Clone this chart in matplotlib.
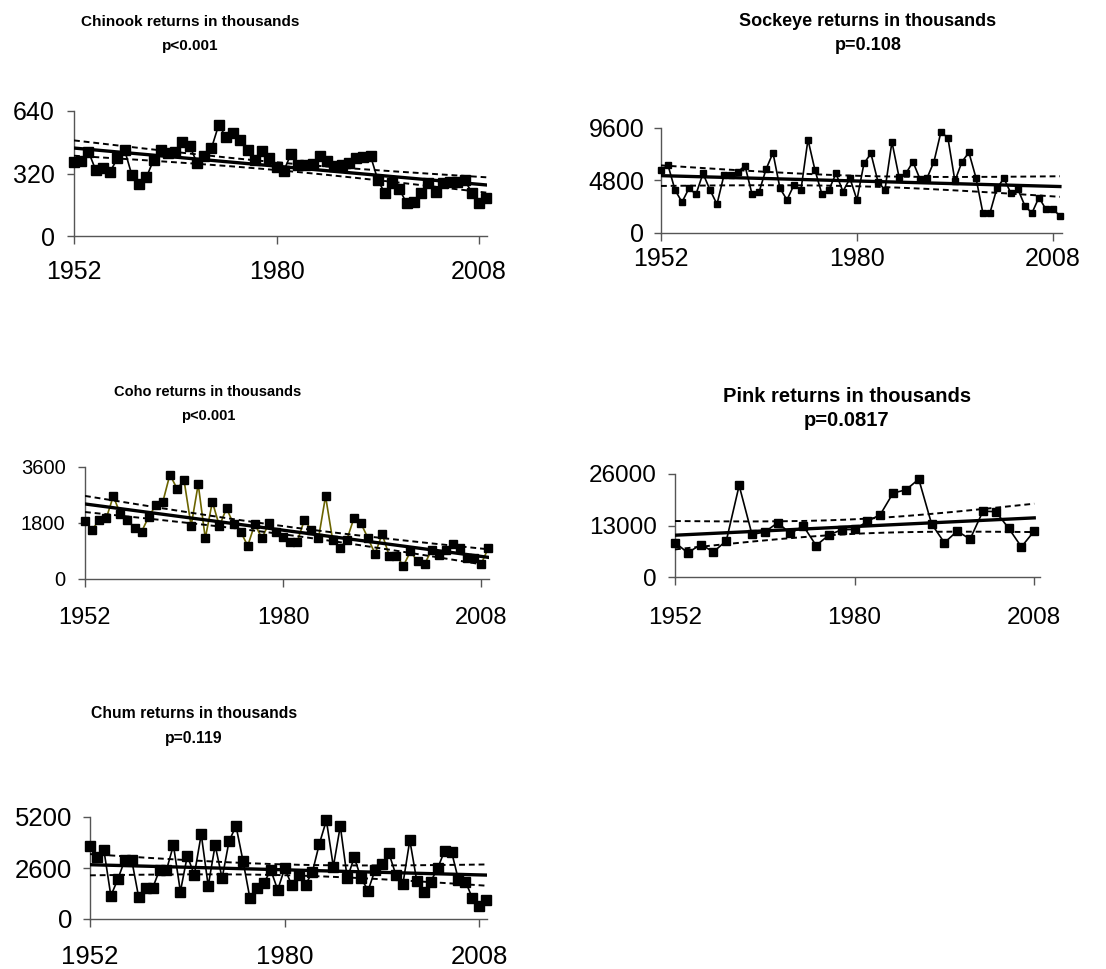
import numpy as np
import matplotlib
matplotlib.use("Agg")
import matplotlib.pyplot as plt

plt.rcParams['font.family'] = ['Liberation Sans', 'DejaVu Sans']

# annual returns (thousands), 1952-2009
years = list(range(1952, 2010))

chinook = [381, 384, 432, 338, 346, 329, 398, 440, 312, 266,
           300, 389, 440, 427, 432, 483, 461, 375, 410, 449,
           568, 509, 529, 492, 440, 389, 437, 398, 355, 333,
           420, 364, 364, 369, 410, 386, 358, 364, 375, 398,
           406, 410, 287, 218, 273, 239, 167, 176, 218, 270,
           227, 270, 278, 278, 287, 222, 167, 193]

sockeye = [5750, 6200, 3940, 2820, 4090, 3540, 5450, 3940, 2630, 5300,
           5300, 5600, 6150, 3570, 3720, 5810, 7330, 4090, 3030, 4390,
           3940, 8540, 5750, 3540, 3940, 5450, 3790, 5000, 3030, 6360,
           7270, 4690, 3940, 8330, 5150, 5450, 6510, 4940, 5000, 6510,
           9240, 8690, 4750, 6510, 7360, 5060, 1820, 1820, 4090, 5000,
           3630, 4000, 2480, 1820, 3240, 2180, 2180, 1570]

coho = [1874, 1576, 1896, 1950, 2660, 2090, 1896, 1650, 1523, 2000,
        2375, 2480, 3355, 2907, 3174, 1704, 3046, 1310, 2480, 1704,
        2270, 1768, 1523, 1065, 1768, 1310, 1790, 1523, 1363, 1203,
        1203, 1896, 1576, 1310, 2660, 1257, 990, 1257, 1950, 1790,
        1310, 809, 1448, 745, 745, 426, 884, 564, 479, 937,
        777, 937, 1129, 990, 670, 670, 490, 990]

chum = [3714, 3140, 3511, 1182, 2026, 3005, 3005, 1114, 1570, 1570,
        2498, 2498, 3764, 1401, 3224, 2245, 4321, 1688, 3764, 2076,
        3967, 4743, 2971, 1063, 1570, 1823, 2498, 1485, 2583, 1739,
        2245, 1739, 2414, 3849, 5030, 2667, 4743, 2076, 3140, 2076,
        1452, 2498, 2802, 3342, 2245, 1772, 4017, 1941, 1401, 1907,
        2583, 3477, 3427, 1992, 1907, 1063, 675, 945]

# pink salmon return every second year
pink_years = list(range(1952, 2009, 2))
pink = [8700, 6100, 8200, 6350, 9150, 23100, 10750, 11350, 13700, 11000,
        12900, 7950, 10600, 11950, 12000, 14050, 15750, 21200, 22000, 24700,
        13400, 8650, 11600, 9550, 16600, 16500, 12350, 7600, 11600]

W, H = 1106, 969
fig = plt.figure(figsize=(W / 100, H / 100), dpi=100)


def t975(df):
    z = 1.959964
    return z + (z**3 + z) / (4 * df) + (5 * z**5 + 16 * z**3 + 3 * z) / (96 * df**2)


def trend(ax, x, y):
    # least squares line with 95% confidence band of the mean
    x = np.asarray(x, float)
    y = np.asarray(y, float)
    b, a = np.polyfit(x, y, 1)
    n = len(x)
    s = np.sqrt(np.sum((y - (a + b * x))**2) / (n - 2))
    sxx = np.sum((x - x.mean())**2)
    xs = np.linspace(x[0], x[-1], 200)
    fit = a + b * xs
    half = t975(n - 2) * s * np.sqrt(1 / n + (xs - x.mean())**2 / sxx)
    ax.plot(xs, fit, color='black', lw=2.4, zorder=4)
    ax.plot(xs, fit + half, color='black', lw=1.4, ls=(0, (3, 2)), zorder=4)
    ax.plot(xs, fit - half, color='black', lw=1.4, ls=(0, (3, 2)), zorder=4)


def panel(box, x, y, ymax, titles, tsize, xsize, ysize, ms, xpad, ypad, xright,
          title_x, title_ys, line_color='black'):
    left, top, right, bottom = box
    ax = fig.add_axes([left / W, 1 - bottom / H, (right - left) / W, (bottom - top) / H])
    ax.plot(x, y, color=line_color, lw=1.2, marker='s', ms=ms,
            mfc='black', mec='black', clip_on=False, zorder=3)
    trend(ax, x, y)
    ax.set_xlim(1952, xright)
    ax.set_ylim(0, ymax)
    ax.set_xticks([1952, 1980, 2008])
    ax.set_yticks([0, ymax / 2, ymax])
    ax.set_yticklabels(['0', str(ymax // 2), str(ymax)])
    for side in ['top', 'right']:
        ax.spines[side].set_visible(False)
    for side in ['left', 'bottom']:
        ax.spines[side].set_color('#555555')
        ax.spines[side].set_linewidth(1.0)
    ax.tick_params(axis='x', direction='out', length=6, width=1.0, color='#555555',
                   labelsize=xsize, pad=xpad)
    ax.tick_params(axis='y', direction='out', length=5, width=1.0, color='#555555',
                   labelsize=ysize, pad=ypad)
    for line, ty in zip(titles, title_ys):
        fig.text(title_x / W, 1 - ty / H, line, ha='center', va='center',
                 fontsize=tsize, fontweight='bold')
    return ax


panel((74, 111, 487, 236), years, chinook, 640,
      ['Chinook returns in thousands', 'p<0.001'], 11, 18, 18, 6.5,
      11.5, 9, 2009.1, 190, (22, 46))
panel((661, 128, 1062, 233), years, sockeye, 9600,
      ['Sockeye returns in thousands', 'p=0.108'], 13, 18, 18, 4.8,
      4, 7, 2009.3, 868, (22, 45))
panel((85, 467, 489, 579), years, coho, 3600,
      ['Coho returns in thousands', 'p<0.001'], 10.5, 17, 14.5, 5.3,
      14, 9, 2009.1, 208, (392, 416), line_color='#6b6400')
panel((675, 474, 1040, 577), pink_years, pink, 26000,
      ['Pink returns in thousands', 'p=0.0817'], 14.5, 17.5, 17.5, 6,
      15.5, 8, 2008.9, 847, (397, 421))
panel((90, 817, 487, 919), years, chum, 5200,
      ['Chum returns in thousands', 'p=0.119'], 11.3, 18.5, 18.5, 6.5,
      12.5, 8, 2009.1, 194, (713, 739))

fig.savefig('out.png', dpi=100)
